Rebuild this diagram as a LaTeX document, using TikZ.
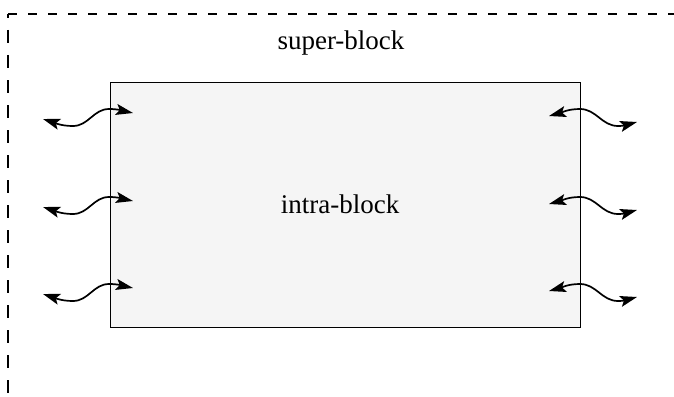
\documentclass[tikz,border=0pt]{standalone}
\usepackage{fontspec}
\setmainfont{Liberation Serif}
\usetikzlibrary{arrows.meta}
\definecolor{boxfill}{HTML}{F5F5F5}
\tikzset{
  superh/.style={draw=black, line width=1.3pt, dash pattern=on 9pt off 11pt},
  superv/.style={draw=black, line width=1.3pt, dash pattern=on 13pt off 12pt, dash phase=9pt},
  intrabox/.style={draw=black, line width=0.9pt, fill=boxfill},
  lbl/.style={font=\fontsize{27}{32}\selectfont, anchor=base, inner sep=0pt},
  wave/.style={line width=1.7pt, {Stealth[length=17pt,width=11pt,inset=3.5pt]}-{Stealth[length=17pt,width=11pt,inset=3.5pt]}}
}
\begin{document}
\begin{tikzpicture}[x=1pt,y=1pt]
\useasboundingbox (0,0) rectangle (674,-396);
\clip (0,0) rectangle (674,-396);
\fill[white] (0,0) rectangle (674,-396);
% super-block
\coordinate (corner) at (8,-14);
\coordinate (topend) at (680,-14);
\coordinate (leftend) at (8,-400);
\draw[superh] (corner) -- (topend);
\draw[superv] (corner) -- (leftend);
\node[lbl] (super) at (341,-50) {super-block};
% intra-block
\node[intrabox, minimum width=470pt, minimum height=245pt, inner sep=0pt] (intra) at (345,-204.5) {};
\node[lbl] (intratext) at (340,-213) {intra-block};
% waves
\foreach \i/\dy in {1/0,2/88,3/175}{
  \coordinate (La\i) at (43,-119-\dy);
  \coordinate (Ll\i) at (73,-126-\dy);
  \coordinate (Le\i) at (109,-109-\dy);
  \coordinate (Lb\i) at (133,-113-\dy);
  \draw[wave] (La\i) to[out=-18,in=180] (Ll\i) to[out=0,in=180] (Le\i) to[out=0,in=168] (Lb\i);
  \coordinate (Ra\i) at (549,-116-\dy);
  \coordinate (Re\i) at (580,-109-\dy);
  \coordinate (Rl\i) at (618,-126-\dy);
  \coordinate (Rb\i) at (637,-122-\dy);
  \draw[wave] (Ra\i) to[out=15,in=180] (Re\i) to[out=0,in=180] (Rl\i) to[out=0,in=195] (Rb\i);
}
\end{tikzpicture}
\end{document}
